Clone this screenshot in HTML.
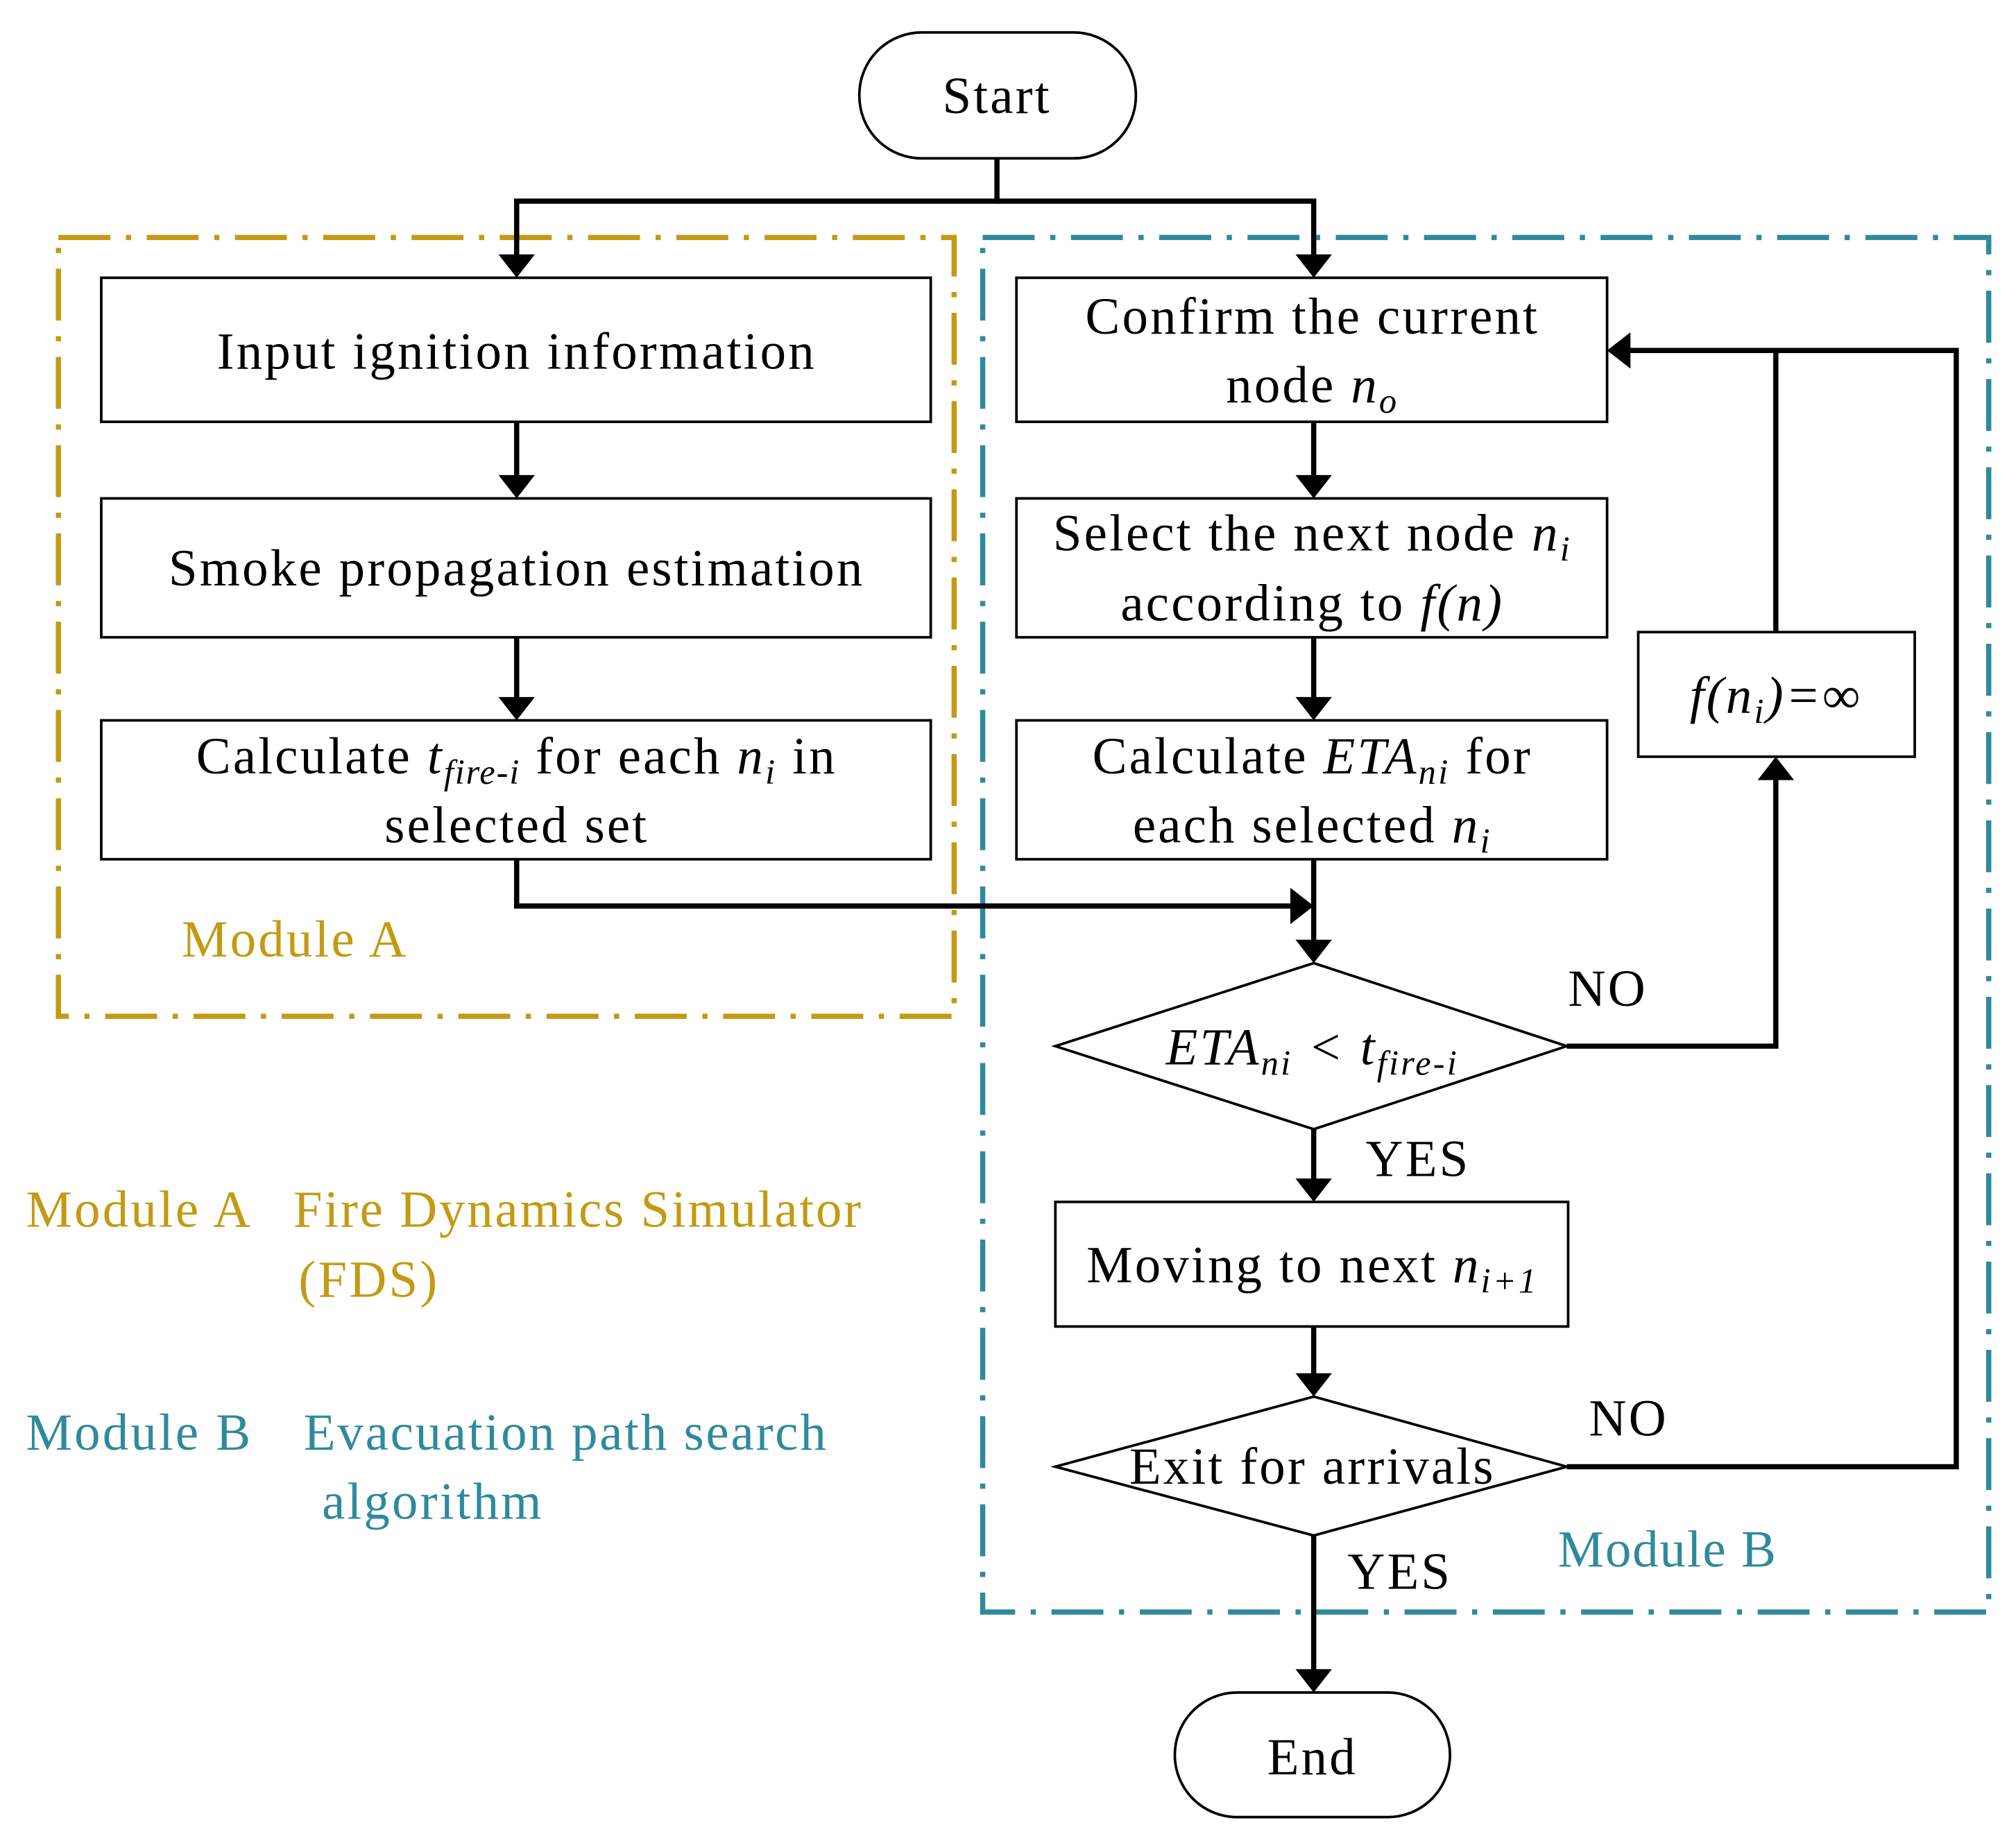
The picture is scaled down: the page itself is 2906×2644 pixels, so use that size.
<!DOCTYPE html>
<html><head><meta charset="utf-8"><style>html,body{margin:0;padding:0;background:#fff}svg{display:block}</style></head>
<body>
<svg width="2906" height="2644" viewBox="0 0 1553 1413" xmlns="http://www.w3.org/2000/svg" font-family="'Liberation Serif', serif" font-size="40" letter-spacing="1.7">
<rect width="1553" height="1413" fill="#fff"/>
<rect x="45" y="183" width="690" height="600" fill="none" stroke="#C39A14" stroke-width="4" stroke-dasharray="40,12,4,12"/>
<rect x="757" y="183" width="775" height="1059" fill="none" stroke="#2E8A9C" stroke-width="4" stroke-dasharray="40,12,4,12"/>
<g fill="none" stroke="#000" stroke-width="2">
<rect x="662" y="25" width="213" height="97" rx="48"/>
<rect x="905" y="1304" width="212" height="96" rx="48"/>
<rect x="78" y="214" width="639" height="111"/>
<rect x="78" y="384" width="639" height="107"/>
<rect x="78" y="555" width="639" height="107"/>
<rect x="783" y="214" width="455" height="111"/>
<rect x="783" y="384" width="455" height="107"/>
<rect x="783" y="555" width="455" height="107"/>
<rect x="1262" y="487" width="213" height="96"/>
<rect x="813" y="926" width="395" height="96"/>
<polygon points="813,806 1012,742 1207,806 1012,870"/>
<polygon points="813,1130 1012,1076 1207,1130 1012,1183"/>
</g>
<g fill="none" stroke="#000" stroke-width="4">
<polyline points="768,122 768,155 398,155 398,200"/>
<polyline points="768,155 1012,155 1012,200"/>
<line x1="398" y1="325" x2="398" y2="370"/>
<line x1="398" y1="491" x2="398" y2="541"/>
<line x1="1012" y1="325" x2="1012" y2="370"/>
<line x1="1012" y1="491" x2="1012" y2="541"/>
<line x1="1012" y1="662" x2="1012" y2="728"/>
<polyline points="398,662 398,698 998,698"/>
<polyline points="1207,806 1368,806 1368,597"/>
<polyline points="1368,487 1368,270 1252,270"/>
<polyline points="1207,1130 1507,1130 1507,270 1368,270"/>
<line x1="1012" y1="870" x2="1012" y2="912"/>
<line x1="1012" y1="1022" x2="1012" y2="1062"/>
<line x1="1012" y1="1183" x2="1012" y2="1290"/>
</g>
<g fill="#000">
<polygon points="384,196 412,196 398,214"/>
<polygon points="998,196 1026,196 1012,214"/>
<polygon points="384,366 412,366 398,384"/>
<polygon points="384,537 412,537 398,555"/>
<polygon points="998,366 1026,366 1012,384"/>
<polygon points="998,537 1026,537 1012,555"/>
<polygon points="998,724 1026,724 1012,742"/>
<polygon points="994,684 994,712 1012,698"/>
<polygon points="1354,601 1382,601 1368,583"/>
<polygon points="1256,256 1256,284 1238,270"/>
<polygon points="998,908 1026,908 1012,926"/>
<polygon points="998,1058 1026,1058 1012,1076"/>
<polygon points="998,1286 1026,1286 1012,1304"/>
</g>
<g text-anchor="middle" fill="#000">
<text x="768" y="87">Start</text>
<text x="1011" y="1367">End</text>
<text x="398" y="284">Input ignition information</text>
<text x="398" y="451">Smoke propagation estimation</text>
<text x="398" y="596">Calculate <tspan font-style="italic">t<tspan font-size="27" letter-spacing="1" dy="8">fire-i</tspan></tspan><tspan dy="-8"> for each </tspan><tspan font-style="italic">n<tspan font-size="27" dy="8">i</tspan></tspan><tspan dy="-8">  in</tspan></text>
<text x="398" y="649">selected set</text>
<text x="1011" y="257">Confirm the current</text>
<text x="1011" y="310">node <tspan font-style="italic">n<tspan font-size="27" dy="8">o</tspan></tspan></text>
<text x="1011" y="424">Select the next node <tspan font-style="italic">n<tspan font-size="27" dy="8">i</tspan></tspan></text>
<text x="1011" y="478">according to <tspan font-style="italic">f(n)</tspan></text>
<text x="1011" y="596">Calculate <tspan font-style="italic">ETA<tspan font-size="27" dy="8">ni</tspan></tspan><tspan dy="-8"> for</tspan></text>
<text x="1011" y="649">each selected <tspan font-style="italic">n<tspan font-size="27" dy="8">i</tspan></tspan></text>
<text x="1368" y="549" font-style="italic">f(n<tspan font-size="27" dy="8">i</tspan><tspan dy="-8">)=∞</tspan></text>
<text x="1011" y="820" font-style="italic">ETA<tspan font-size="27" dy="8">ni</tspan><tspan dy="-8"> &lt; t</tspan><tspan font-size="27" dy="8">fire-i</tspan></text>
<text x="1011" y="988">Moving to next <tspan font-style="italic">n<tspan font-size="27" dy="8">i+1</tspan></tspan></text>
<text x="1011" y="1143">Exit for arrivals</text>
</g>
<g fill="#000">
<text x="1208" y="775">NO</text>
<text x="1224" y="1106">NO</text>
<text x="1052" y="906">YES</text>
<text x="1038" y="1224">YES</text>
</g>
<g fill="#C39A14">
<text x="140" y="737">Module A</text>
<text x="20" y="945">Module A</text>
<text x="226" y="945" letter-spacing="1.5">Fire Dynamics Simulator</text>
<text x="230" y="999">(FDS)</text>
</g>
<g fill="#2E8A9C">
<text x="1200" y="1207" letter-spacing="1">Module B</text>
<text x="20" y="1117">Module B</text>
<text x="234" y="1117" letter-spacing="1.5">Evacuation path search</text>
<text x="248" y="1170">algorithm</text>
</g>
</svg>
</body></html>
